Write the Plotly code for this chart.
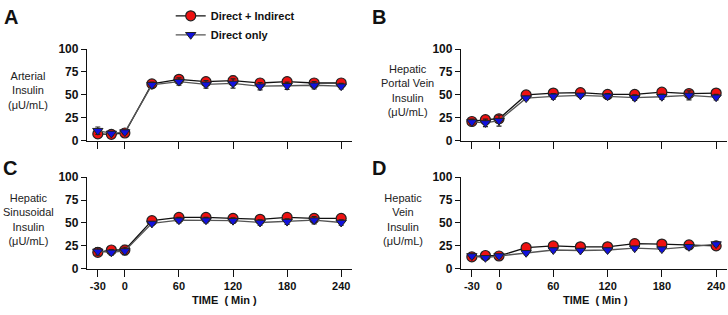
import plotly.graph_objects as go

time = [-30, -15, 0, 30, 60, 90, 120, 150, 180, 210, 240]
x_ticks = [-30, 0, 60, 120, 180, 240]
y_ticks = [0, 25, 50, 75, 100]

# Panel A: Arterial insulin
a_di = [7.5, 7, 8.5, 62, 67, 64.5, 65.5, 63, 64.5, 63, 63]
a_di_err = [2, 1.5, 2, 2, 4, 3, 5, 3, 4, 3, 3]
a_d = [11, 8, 9.5, 61, 64.5, 61.5, 62.5, 59.5, 60, 60.5, 59.5]
a_d_err = [4, 2, 2, 3, 4, 4, 5, 4, 4, 4, 3]

# Panel B: Hepatic portal vein insulin
b_di = [21, 23, 24, 50, 52, 52.5, 50.5, 50.5, 53, 51.5, 52]
b_di_err = [3, 3, 3, 2, 2, 2, 3, 2, 2, 2, 3]
b_d = [20.5, 19.5, 22, 46.5, 48.5, 49.5, 48.5, 47, 48, 49.5, 47.5]
b_d_err = [3, 4, 6, 2, 3, 2, 3, 3, 3, 5, 3]

# Panel C: Hepatic sinusoidal insulin
c_di = [18, 20.5, 20.5, 52.5, 56, 56, 55, 54, 56, 55, 55]
c_di_err = [4, 2, 5, 2, 2, 2, 3, 2, 2, 2, 3]
c_d = [19, 18, 19.5, 49.5, 53, 53, 52.5, 50.5, 51.5, 53, 50.5]
c_d_err = [4, 3, 4, 2, 3, 3, 3, 3, 3, 4, 3]

# Panel D: Hepatic vein insulin
d_di = [13, 14.5, 14, 23, 25, 24, 24, 27.5, 27, 26, 25]
d_di_err = [2, 2, 2, 2, 2, 2, 2, 2, 2, 2, 3]
d_d = [14, 12, 14, 17.5, 20.5, 20, 20.5, 22.5, 21.5, 24, 27]
d_d_err = [2, 2, 2, 2, 2, 2, 2, 2, 2, 2, 2]

series_names = ["Direct + Indirect", "Direct only"]
panel_letters = ["A", "B", "C", "D"]
panel_titles = [
    "Arterial<br>Insulin<br>(μU/mL)",
    "Hepatic<br>Portal Vein<br>Insulin<br>(μU/mL)",
    "Hepatic<br>Sinusoidal<br>Insulin<br>(μU/mL)",
    "Hepatic<br>Vein<br>Insulin<br>(μU/mL)",
]
x_title = "TIME  ( Min )"

W, H = 728, 315
FONT = "Liberation Sans, Arial, sans-serif"

panels = [
    (a_di, a_di_err, a_d, a_d_err),
    (b_di, b_di_err, b_d, b_d_err),
    (c_di, c_di_err, c_d, c_d_err),
    (d_di, d_di_err, d_d, d_d_err),
]

# pixel geometry (left, right, top(100), bottom(0))
geom = [
    (87, 352, 44, 140),
    (461, 727, 44, 140),
    (87, 352, 178, 274),
    (461, 727, 178, 274),
]

fig = go.Figure()
layout = {}
for i, ((di, die, d, de), (l, r, t, b)) in enumerate(zip(panels, geom)):
    n = i + 1
    xa = "x" if n == 1 else f"x{n}"
    ya = "y" if n == 1 else f"y{n}"
    fig.add_trace(go.Scatter(
        x=time, y=di, mode="lines+markers", name=series_names[0],
        xaxis=xa, yaxis=ya, showlegend=(i == 0), cliponaxis=False,
        line=dict(color="#111111", width=1.3),
        marker=dict(symbol="circle", size=10, color="#ee1111",
                    line=dict(color="#222222", width=1.2)),
        error_y=dict(type="data", array=die, color="#222222", thickness=1.2, width=2.5),
    ))
    fig.add_trace(go.Scatter(
        x=time, y=d, mode="lines+markers", name=series_names[1],
        xaxis=xa, yaxis=ya, showlegend=(i == 0), cliponaxis=False,
        line=dict(color="#555555", width=1.3),
        marker=dict(symbol="triangle-down", size=9, color="#1111dd",
                    line=dict(color="#222222", width=1.0)),
        error_y=dict(type="data", array=de, color="#222222", thickness=1.2, width=2.5),
    ))
    bottom = i >= 2
    xkey = "xaxis" if n == 1 else f"xaxis{n}"
    ykey = "yaxis" if n == 1 else f"yaxis{n}"
    layout[xkey] = dict(
        domain=[l / W, r / W], anchor=ya, range=[-42, 252],
        tickvals=x_ticks, ticktext=[str(v) for v in x_ticks] if bottom else ["" for _ in x_ticks],
        showticklabels=bottom, ticks="outside", ticklen=7, tickwidth=1.2, tickcolor="#111",
        showline=True, linecolor="#111", linewidth=1.3, showgrid=False, zeroline=False,
        tickfont=dict(family=FONT, size=11, color="#111", weight="bold"),
        fixedrange=True,
    )
    layout[ykey] = dict(
        domain=[1 - b / H, 1 - t / H], anchor=xa, range=[0, 100],
        tickvals=y_ticks, ticks="outside", ticklen=5, tickwidth=1.2, tickcolor="#111",
        showline=True, linecolor="#111", linewidth=1.3, showgrid=False, zeroline=False,
        tickfont=dict(family=FONT, size=12, color="#111", weight="bold"),
        fixedrange=True,
    )

annotations = []
letter_pos = [(2, 10), (370, 10), (1, 169), (370, 169)]
for (px, py), letter in zip(letter_pos, panel_letters):
    annotations.append(dict(x=px / W, y=1 - py / H, xref="paper", yref="paper",
                            text=f"<b>{letter}</b>", showarrow=False, xanchor="left", yanchor="middle",
                            font=dict(family=FONT, size=20, color="#111")))
title_pos = [(28, 87), (407, 87), (28, 222), (403, 222)]
for (px, py), txt in zip(title_pos, panel_titles):
    annotations.append(dict(x=px / W, y=1 - py / H, xref="paper", yref="paper",
                            text=txt, showarrow=False, xanchor="center", yanchor="middle",
                            align="center", font=dict(family=FONT, size=11, color="#222")))
for px in (224, 595):
    annotations.append(dict(x=px / W, y=1 - 307 / H, xref="paper", yref="paper",
                            text=f"<b>{x_title}</b>", showarrow=False, xanchor="center", yanchor="middle",
                            font=dict(family=FONT, size=11, color="#111")))

fig.update_layout(
    width=W, height=H, margin=dict(l=0, r=0, t=0, b=0),
    plot_bgcolor="white", paper_bgcolor="white",
    annotations=annotations,
    legend=dict(x=0.2345, y=1.019, xanchor="left", yanchor="top", bgcolor="rgba(0,0,0,0)",
                font=dict(family=FONT, size=11, color="#111", weight="bold"),
                tracegroupgap=0, itemwidth=30),
    **layout,
)

fig.write_html("out.html", config={"displayModeBar": False},
               post_script="document.body.style.margin='0';document.body.style.overflow='hidden';")
